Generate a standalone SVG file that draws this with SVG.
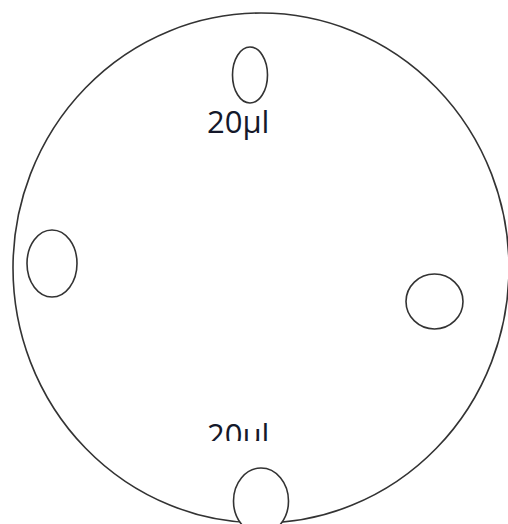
<svg xmlns="http://www.w3.org/2000/svg" width="508" height="524" viewBox="0 0 508 524">
<style>
.shape{fill:#fff;stroke:#333;stroke-width:1.6}
.lbl{font-family:"Open Sans","Liberation Sans",sans-serif;font-size:31px;fill:#15182a}
</style>
<defs>
<clipPath id="clipBottom"><rect x="0" y="0" width="508" height="441"/></clipPath>
</defs>
<rect width="508" height="524" fill="#fff"/>
<g id="plate"><ellipse class="shape" cx="261" cy="268" rx="248" ry="255"/></g>
<g id="well-top"><ellipse class="shape" cx="250" cy="75" rx="17.5" ry="28"/></g>
<g id="label-top"><text class="lbl" x="207" y="133">20µl</text></g>
<g id="well-left"><ellipse class="shape" cx="52" cy="263.5" rx="25" ry="33.5"/></g>
<g id="well-right"><ellipse class="shape" cx="434.5" cy="301.5" rx="28.5" ry="27.5"/></g>
<g id="label-bottom" clip-path="url(#clipBottom)"><text class="lbl" x="207" y="446">20µl</text></g>
<g id="well-bottom"><ellipse class="shape" cx="261" cy="501" rx="27.5" ry="33"/></g>
<g id="connectors"/>
</svg>
